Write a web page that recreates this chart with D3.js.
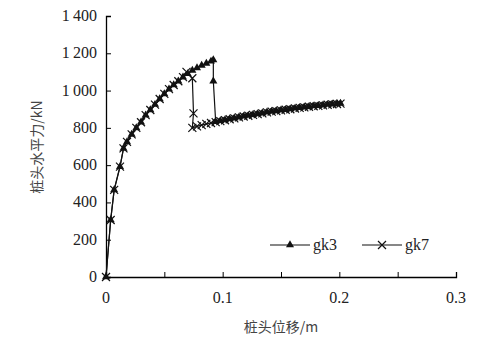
<!DOCTYPE html>
<html>
<head>
<meta charset="utf-8">
<script src="https://cdn.jsdelivr.net/npm/d3@7"></script>
<style>
  body { margin: 0; background: #fff; }
  svg text.cjk { font-family: "Noto Sans CJK SC", sans-serif; fill: #444; }
</style>
</head>
<body>
<div id="chart"></div>
<script>
// gk3: displacement (m) and pile head horizontal force (kN)
var gk3X = [0, 0.004, 0.007, 0.012, 0.015, 0.018, 0.022, 0.026, 0.030, 0.034, 0.038, 0.042, 0.046, 0.050,
  0.054, 0.058, 0.062, 0.066, 0.070, 0.074, 0.078, 0.082, 0.086, 0.090, 0.092,
  0.092, 0.094, 0.098, 0.102, 0.106, 0.110, 0.114, 0.118, 0.122, 0.126, 0.130, 0.134, 0.138, 0.142,
  0.146, 0.150, 0.154, 0.158, 0.162, 0.166, 0.170, 0.174, 0.178, 0.182, 0.186, 0.190, 0.194, 0.198, 0.201];
var gk3F = [0, 306, 467, 592, 690, 725, 765, 800, 830, 868, 896, 925, 955, 982,
  1008, 1030, 1050, 1072, 1090, 1108, 1122, 1135, 1146, 1157, 1164,
  1050, 833, 838, 843, 848, 852, 857, 862, 866, 871, 875, 879, 884, 888,
  891, 895, 898, 901, 905, 908, 911, 914, 917, 919, 922, 925, 927, 929, 931];

// gk7
var gk7X = [0, 0.004, 0.007, 0.012, 0.015, 0.018, 0.022, 0.026, 0.030, 0.034, 0.038, 0.042, 0.046, 0.050,
  0.054, 0.058, 0.062, 0.066, 0.069, 0.074, 0.075, 0.074, 0.078, 0.082, 0.086, 0.090, 0.094, 0.098,
  0.102, 0.106, 0.110, 0.114, 0.118, 0.122, 0.126, 0.130, 0.134, 0.138, 0.142, 0.146, 0.150, 0.154,
  0.158, 0.162, 0.166, 0.170, 0.174, 0.178, 0.182, 0.186, 0.190, 0.194, 0.198, 0.201];
var gk7F = [0, 306, 467, 592, 690, 725, 765, 800, 830, 868, 896, 925, 955, 982,
  1008, 1030, 1050, 1072, 1100, 1066, 878, 800, 808, 815, 821, 826, 831, 836,
  841, 846, 851, 856, 861, 865, 870, 874, 878, 883, 887, 890, 894, 897,
  900, 904, 907, 910, 913, 916, 918, 921, 924, 926, 928, 930];

var xTicks = [0, 0.1, 0.2, 0.3];
var xMinor = [0.05, 0.15, 0.25];
var yTicks = [0, 200, 400, 600, 800, 1000, 1200, 1400];
var seriesNames = ["gk3", "gk7"];

var width = 496, height = 357;
var margin = { top: 16, right: 40, bottom: 80, left: 106 };
var serif = '"Liberation Serif", serif';

var svg = d3.select("#chart").append("svg")
  .attr("width", width)
  .attr("height", height);

var x = d3.scaleLinear().domain([0, 0.3]).range([margin.left, width - margin.right]);
var y = d3.scaleLinear().domain([0, 1400]).range([height - margin.bottom, margin.top]);

// axes (ticks inside)
var xAxis = svg.append("g")
  .attr("transform", "translate(0," + y(0) + ")")
  .call(d3.axisBottom(x).tickValues(xTicks.concat(xMinor)).tickSize(-5).tickFormat(""));
xAxis.select(".domain").attr("stroke-width", 1.3);

var yAxis = svg.append("g")
  .attr("transform", "translate(" + x(0) + ",0)")
  .call(d3.axisLeft(y).tickValues(yTicks).tickSize(-5).tickFormat(""));
yAxis.select(".domain").attr("stroke-width", 1.3);

svg.selectAll(".xlab").data(xTicks).enter().append("text")
  .style("font-family", serif)
  .attr("fill", "#222")
  .attr("x", function (d) { return x(d); })
  .attr("y", y(0) + 26)
  .attr("text-anchor", "middle")
  .style("font-size", "16px")
  .text(function (d) { return d === 0 ? "0" : d.toFixed(1); });

svg.selectAll(".ylab").data(yTicks).enter().append("text")
  .style("font-family", serif)
  .attr("fill", "#222")
  .attr("x", x(0) - 9)
  .attr("y", function (d) { return y(d) + 5; })
  .attr("text-anchor", "end")
  .style("font-size", "16px")
  .text(function (d) { return d >= 1000 ? Math.floor(d / 1000) + "\u2009" + d3.format("03d")(d % 1000) : d; });

svg.append("text")
  .attr("class", "cjk")
  .attr("x", 281)
  .attr("y", 332)
  .attr("text-anchor", "middle")
  .style("font-size", "14px")
  .text("桩头位移/m");

svg.append("text")
  .attr("class", "cjk")
  .attr("transform", "translate(42,147) rotate(-90)")
  .attr("text-anchor", "middle")
  .style("font-size", "14px")
  .text("桩头水平力/kN");

var line = d3.line()
  .x(function (d) { return x(d[0]); })
  .y(function (d) { return y(d[1]); });

var gk3 = gk3X.map(function (v, i) { return [v, gk3F[i]]; });
var gk7 = gk7X.map(function (v, i) { return [v, gk7F[i]]; });

var tri = d3.symbol().type(d3.symbolTriangle).size(28);
var crossPath = "M-4,-4L4,4M-4,4L4,-4";

function drawTri(g, data) {
  g.selectAll(".tri").data(data).enter().append("path")
    .attr("d", tri)
    .attr("transform", function (d) { return "translate(" + x(d[0]) + "," + y(d[1]) + ")"; })
    .attr("fill", "#111");
}
function drawCross(g, data) {
  g.selectAll(".cross").data(data).enter().append("path")
    .attr("d", crossPath)
    .attr("transform", function (d) { return "translate(" + x(d[0]) + "," + y(d[1]) + ")"; })
    .attr("stroke", "#111")
    .attr("stroke-width", 1.2)
    .attr("fill", "none");
}

svg.append("path").datum(gk7).attr("d", line)
  .attr("fill", "none").attr("stroke", "#111").attr("stroke-width", 1.2);
svg.append("path").datum(gk3).attr("d", line)
  .attr("fill", "none").attr("stroke", "#111").attr("stroke-width", 1.2);
drawCross(svg.append("g"), gk7);
drawTri(svg.append("g"), gk3);

// legend
var lg = svg.append("g").attr("transform", "translate(270,245)");
seriesNames.forEach(function (name, i) {
  var ox = i * 92;
  lg.append("line").attr("x1", ox).attr("x2", ox + 40).attr("y1", 0).attr("y2", 0)
    .attr("stroke", "#111").attr("stroke-width", 1.2);
  var m = lg.append("path")
    .attr("transform", "translate(" + (ox + 20) + ",0)");
  if (i === 0) {
    m.attr("d", tri).attr("fill", "#111");
  } else {
    m.attr("d", crossPath).attr("stroke", "#111").attr("stroke-width", 1.2).attr("fill", "none");
  }
  lg.append("text").style("font-family", serif).attr("fill", "#222")
    .attr("x", ox + 43).attr("y", 5)
    .style("font-size", "16px").text(name);
});
</script>
</body>
</html>
